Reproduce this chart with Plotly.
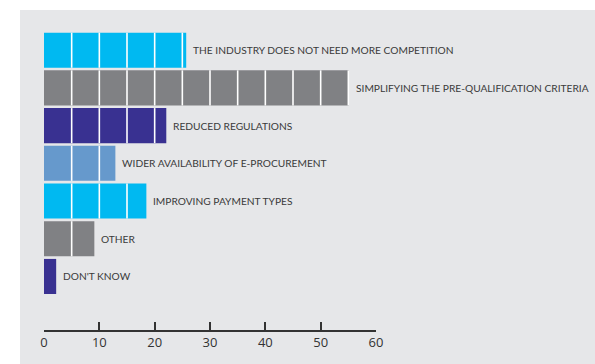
import plotly.graph_objects as go

categories = [
    "THE INDUSTRY DOES NOT NEED MORE COMPETITION",
    "SIMPLIFYING THE PRE-QUALIFICATION CRITERIA",
    "REDUCED REGULATIONS",
    "WIDER AVAILABILITY OF E-PROCUREMENT",
    "IMPROVING PAYMENT TYPES",
    "OTHER",
    "DON'T KNOW",
]
values = [25.7, 55.1, 22.1, 12.9, 18.5, 9.1, 2.2]
colors = ["#00b9f1", "#808184", "#393191", "#6699cc", "#00b9f1", "#808184", "#393191"]
tick_vals = [0, 10, 20, 30, 40, 50, 60]
tile = 5  # width of each tile in the bars

BG = "#e6e7e9"
BAR_W = 0.93
pos = list(range(len(categories)))

fig = go.Figure()
fig.add_trace(go.Bar(
    x=values, y=pos, orientation="h",
    marker=dict(color=colors, line=dict(width=0)),
    width=BAR_W, hoverinfo="skip",
))

# white separators between tiles, derived from the values
sx, sy = [], []
for i, v in enumerate(values):
    k = tile
    while k < v:
        sx += [k, k, None]
        sy += [i - BAR_W / 2, i + BAR_W / 2, None]
        k += tile
fig.add_trace(go.Scatter(
    x=sx, y=sy, mode="lines", line=dict(color="white", width=1.6),
    hoverinfo="skip", showlegend=False,
))

for i, (c, v) in enumerate(zip(categories, values)):
    fig.add_annotation(
        x=v, y=i, text=c, showarrow=False, xanchor="left", yanchor="middle",
        xshift=5, font=dict(family="Lato", size=10.2, color="#3a3a3a"),
    )

W, H = 595, 364
L, R, T, B = 44, 219, 10, 34
pw, ph = W - L - R, H - T - B
fig.add_shape(
    type="rect", xref="paper", yref="paper",
    x0=(20 - L) / pw, x1=(W - L) / pw, y0=-(B) / ph, y1=1,
    fillcolor=BG, line=dict(width=0), layer="below",
)

fig.update_layout(
    width=W, height=H, margin=dict(l=L, r=R, t=T, b=B),
    paper_bgcolor="white", plot_bgcolor=BG, showlegend=False,
    xaxis=dict(
        range=[0, 60], tickvals=tick_vals, ticks="inside", ticklen=8,
        tickwidth=1.5, tickcolor="#333", showline=True, linecolor="#333",
        linewidth=1.5, showgrid=False, zeroline=False,
        tickfont=dict(family="Open Sans", size=13, color="#333"),
    ),
    yaxis=dict(
        range=[(H - B - 50.2) / 37.71, (T - 50.2) / 37.71],
        visible=False, showgrid=False, zeroline=False,
    ),
)
fig.write_html("out.html")
